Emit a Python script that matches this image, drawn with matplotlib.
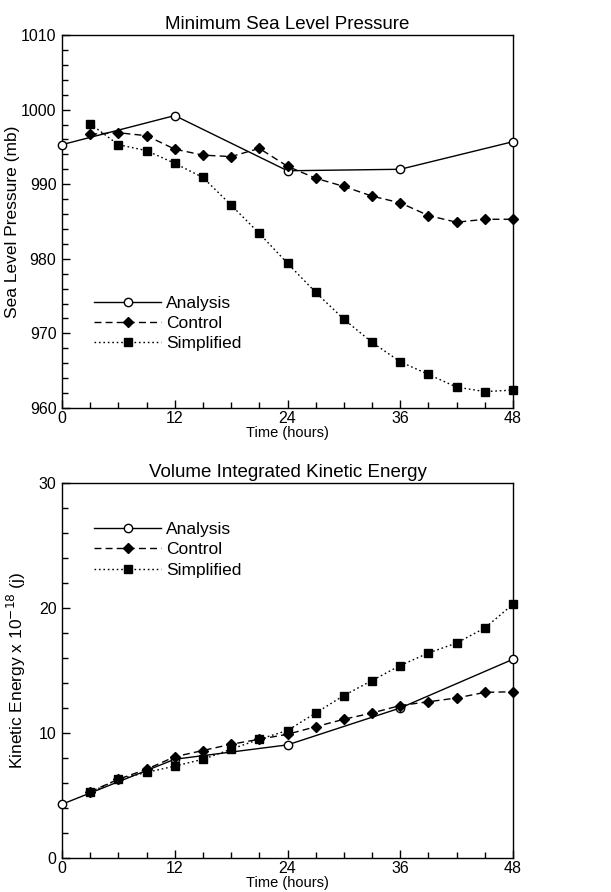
import numpy as np
import matplotlib
matplotlib.use("Agg")
import matplotlib.pyplot as plt
from matplotlib.ticker import MultipleLocator

plt.rcParams["font.family"] = ["Liberation Sans", "DejaVu Sans"]

# minimum sea level pressure (mb)
ana_hours = [0, 12, 24, 36, 48]
slp_analysis = [995.3, 999.2, 991.8, 992.0, 995.7]
run_hours = [3, 6, 9, 12, 15, 18, 21, 24, 27, 30, 33, 36, 39, 42, 45, 48]
slp_control = [996.7, 996.9, 996.5, 994.7, 993.9, 993.7, 994.8, 992.4,
               990.8, 989.7, 988.4, 987.5, 985.8, 984.9, 985.3, 985.3]
slp_simplified = [998.1, 995.3, 994.5, 992.8, 990.9, 987.2, 983.4, 979.4,
                  975.5, 971.9, 968.8, 966.2, 964.5, 962.8, 962.2, 962.4]

# volume integrated kinetic energy (x 10^-18 J)
ke_analysis = [4.3, 7.9, 9.05, 12.0, 15.9]
ke_control = [5.3, 6.3, 7.1, 8.1, 8.6, 9.1, 9.5, 9.9,
              10.5, 11.1, 11.6, 12.2, 12.5, 12.8, 13.25, 13.3]
ke_simplified = [5.25, 6.3, 6.85, 7.35, 7.9, 8.7, 9.5, 10.2,
                 11.6, 13.0, 14.2, 15.4, 16.4, 17.2, 18.4, 20.3]

time_ticks = [0, 12, 24, 36, 48]


def draw(ax, ana, ctl, smp, title, ylabel, ylim, legend_anchor, ylabelpad):
    ax.plot(ana_hours, ana, color="black", linestyle="-", linewidth=1.0,
            marker="o", markersize=6, markerfacecolor="white",
            markeredgecolor="black", markeredgewidth=1.0, label="Analysis",
            clip_on=False, zorder=3)
    ax.plot(run_hours, ctl, color="black", linestyle=(0, (5, 3)), linewidth=1.0,
            marker="D", markersize=4.8, label="Control", clip_on=False, zorder=4)
    ax.plot(run_hours, smp, color="black", linestyle=(0, (1.2, 2)), linewidth=1.0,
            marker="s", markersize=6, label="Simplified", clip_on=False, zorder=5)

    ax.set_xlim(0, 48)
    ax.set_ylim(*ylim)
    ax.set_xticks(time_ticks)
    ax.xaxis.set_minor_locator(MultipleLocator(3))
    ax.yaxis.set_major_locator(MultipleLocator(10))
    ax.yaxis.set_minor_locator(MultipleLocator(2))
    ax.tick_params(which="both", direction="in", top=False, right=False,
                   width=1.0, labelsize=11.5)
    ax.tick_params(which="major", length=6)
    ax.tick_params(axis="x", which="major", pad=2)
    ax.tick_params(axis="y", which="major", pad=4)
    ax.tick_params(which="minor", length=4)
    for s in ax.spines.values():
        s.set_linewidth(1.0)

    ax.set_title(title, fontsize=13.5, pad=4)
    ax.set_xlabel("Time (hours)", fontsize=10.5, labelpad=0.5)
    ax.set_ylabel(ylabel, fontsize=12.5, labelpad=ylabelpad)

    ax.legend(loc="upper left", bbox_to_anchor=legend_anchor, frameon=False,
              handlelength=3.9, handletextpad=0.25, labelspacing=0.3,
              fontsize=12.5, borderaxespad=0)


fig = plt.figure(figsize=(6.11, 8.92), dpi=100)
ax1 = fig.add_axes([62 / 611, 1 - 408 / 892, 451 / 611, 373 / 892])
ax2 = fig.add_axes([62 / 611, 1 - 858 / 892, 451 / 611, 375 / 892])

draw(ax1, slp_analysis, slp_control, slp_simplified,
     "Minimum Sea Level Pressure", "Sea Level Pressure (mb)",
     (960, 1010), (0.055, 0.32), 1)
draw(ax2, ke_analysis, ke_control, ke_simplified,
     "Volume Integrated Kinetic Energy", "Kinetic Energy x 10$^{-18}$ (j)",
     (0, 30), (0.055, 0.915), 8)

fig.savefig("out.png", dpi=100)
